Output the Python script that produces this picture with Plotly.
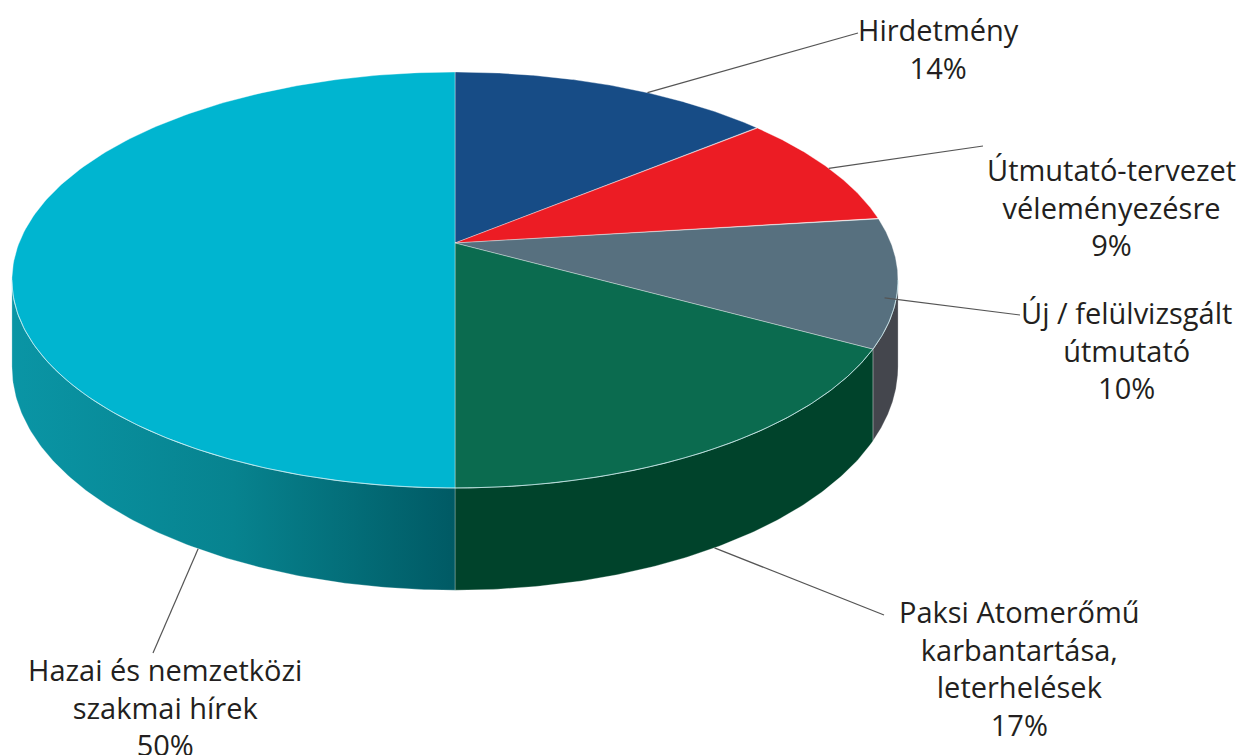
import numpy as np
import plotly.graph_objects as go

# ---- data ----
categories = [
    "Hirdetmény",
    "Útmutató-tervezet<br>véleményezésre",
    "Új / felülvizsgált<br>útmutató",
    "Paksi Atomerőmű<br>karbantartása,<br>leterhelések",
    "Hazai és nemzetközi<br>szakmai hírek",
]
values = [14, 9, 10, 17, 50]

# ---- styles ----
top_colors = ["#174c86", "#ec1c24", "#57707f", "#0b6b4f", "#00b5d0"]
side_colors = ["#0d2f55", "#9a1218", "#44464d", "#00432b", None]
hazai_side_scale = [[0, "#0a95a5"], [0.5, "#07838f"], [1, "#005a64"]]

# label layout (pixel space)
label_xy = [(938, 48), (1111, 207), (1126, 350), (1019, 668), (165, 707)]
leader_end = [(858, 33), (983, 146), (1020, 315), (884, 615), (153, 653)]
leader_anchor = [(0.085, 1.0, 0), (0.185, 1.0, 0), (0.293, 0.975, 0), (0.416, 1.0, 1), (0.583, 1.0, 1)]

W, H = 1242, 755
CX, CY = 455, 243
R, S, K, D = 436, 201.4, 0.178, 84


def proj(f, r=1.0, drop=0.0):
    f = np.asarray(f, dtype=float)
    th = 2 * np.pi * f
    u = r * np.sin(th)
    v = r * np.cos(th)
    w = 1 + K * v
    x = CX + R * u / w
    y = CY - S * v / w + drop * D / w
    return x, y


total = float(sum(values))
cum = np.concatenate([[0], np.cumsum(values)]) / total

fig = go.Figure()

# visible side range (silhouette)
f_r = np.arccos(-K) / (2 * np.pi)
f_l = 1 - f_r

# sides
for i in range(len(values)):
    a, b = max(cum[i], f_r), min(cum[i + 1], f_l)
    if b <= a:
        continue
    fs = np.linspace(a, b, 120)
    xt, yt = proj(fs)
    xb, yb = proj(fs, drop=1.0)
    xs = np.concatenate([xt, xb[::-1], xt[:1]])
    ys = np.concatenate([yt, yb[::-1], yt[:1]])
    kw = dict(fill="toself", mode="lines",
              line=dict(color="rgba(255,255,255,0.35)", width=0.8),
              hoverinfo="skip", showlegend=False)
    if side_colors[i] is None:
        kw["fillgradient"] = dict(type="horizontal", colorscale=hazai_side_scale)
    else:
        kw["fillcolor"] = side_colors[i]
    fig.add_trace(go.Scatter(x=xs, y=ys, **kw))

# top faces
for i in range(len(values)):
    fs = np.linspace(cum[i], cum[i + 1], 200)
    xt, yt = proj(fs)
    xs = np.concatenate([[CX], xt, [CX]])
    ys = np.concatenate([[CY], yt, [CY]])
    fig.add_trace(go.Scatter(x=xs, y=ys, fill="toself", mode="lines",
                             fillcolor=top_colors[i],
                             line=dict(color="rgba(255,255,255,0.45)", width=0.8),
                             hoverinfo="skip", showlegend=False))

# front rim highlight
fs = np.linspace(f_r, f_l, 300)
xt, yt = proj(fs)
fig.add_trace(go.Scatter(x=xt, y=yt, mode="lines",
                         line=dict(color="rgba(200,240,245,0.6)", width=1),
                         hoverinfo="skip", showlegend=False))

# leader lines + labels
for i in range(len(values)):
    f, r, dr = leader_anchor[i]
    x0, y0 = proj(f, r, dr)
    x1, y1 = leader_end[i]
    fig.add_trace(go.Scatter(x=[float(x0), x1], y=[float(y0), y1], mode="lines",
                             line=dict(color="#555555", width=1.2),
                             hoverinfo="skip", showlegend=False))
    fig.add_annotation(x=label_xy[i][0], y=label_xy[i][1],
                       text=f"{categories[i]}<br>{values[i]}%",
                       showarrow=False, xanchor="center", yanchor="middle",
                       align="center",
                       font=dict(family="Open Sans, Noto Sans, sans-serif",
                                 size=29, color="#231f20"))

fig.update_layout(
    width=W, height=H, autosize=False,
    margin=dict(l=0, r=0, t=0, b=0),
    paper_bgcolor="white", plot_bgcolor="white",
    xaxis=dict(range=[0, W], visible=False, fixedrange=True),
    yaxis=dict(range=[H, 0], visible=False, fixedrange=True),
    showlegend=False,
)

fig.write_html("out.html", config={"displayModeBar": False},
               post_script="document.body.style.margin='0';document.body.style.overflow='hidden';")
